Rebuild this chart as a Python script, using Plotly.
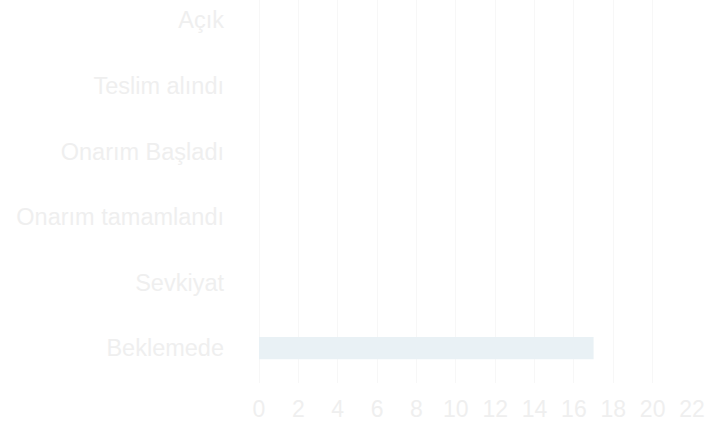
import plotly.graph_objects as go

categories = ["Açık", "Teslim alındı", "Onarım Başladı", "Onarım tamamlandı", "Sevkiyat", "Beklemede"]
values = [0, 0, 0, 0, 0, 17]
x_ticks = [0, 2, 4, 6, 8, 10, 12, 14, 16, 18, 20, 22]

fig = go.Figure(go.Bar(
    x=values, y=categories, orientation="h",
    marker=dict(color="#e9f1f5", line=dict(width=0)),
    width=0.34, hoverinfo="skip",
))

fig.update_layout(
    width=712, height=424,
    margin=dict(l=259, r=20, t=0, b=41, pad=0),
    paper_bgcolor="white", plot_bgcolor="white",
    font=dict(family="Liberation Sans, Arial", size=23, color="#efefef"),
    showlegend=False,
)
fig.update_xaxes(
    range=[0, 22], tickvals=x_ticks, ticktext=[str(v) for v in x_ticks],
    showgrid=True, gridcolor="#f7f7f7", gridwidth=1,
    zeroline=True, zerolinecolor="#f7f7f7", zerolinewidth=1,
    showline=False, ticks="", ticklabelstandoff=10,
    tickfont=dict(size=23, color="#efefef"),
)
fig.update_yaxes(
    categoryorder="array", categoryarray=categories,
    range=[5.53, -0.305],
    showgrid=False, zeroline=False, showline=False, ticks="",
    ticklabelstandoff=34,
    tickfont=dict(size=23.5, color="#efefef"),
)

fig.write_html(
    "out.html",
    config={"displayModeBar": False},
    post_script="document.body.style.margin='0';document.body.style.overflow='hidden';",
)
